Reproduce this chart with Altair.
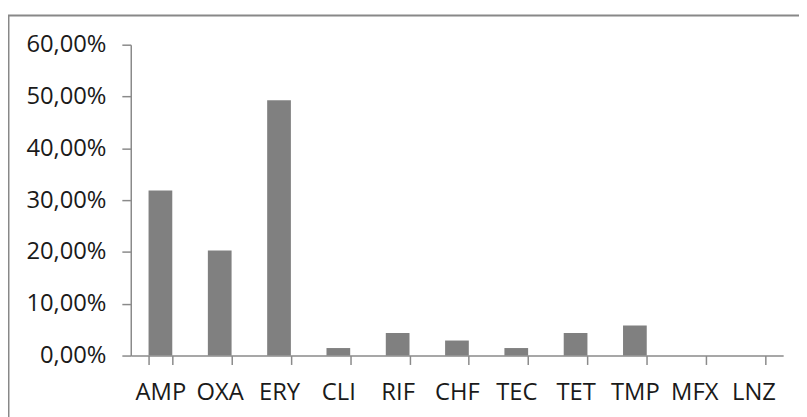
import altair as alt
import pandas as pd

categories = ["AMP", "OXA", "ERY", "CLI", "RIF", "CHF", "TEC", "TET", "TMP", "MFX", "LNZ"]
values = [0.3188, 0.2029, 0.4928, 0.0145, 0.0435, 0.0290, 0.0145, 0.0435, 0.0580, 0.0, 0.0]
y_ticks = [0, 0.1, 0.2, 0.3, 0.4, 0.5, 0.6]

df = pd.DataFrame({"cat": categories, "val": values})

FONT = "Open Sans"
AX = "#8a8a8a"

bars = alt.Chart(df).mark_bar(color="#808080").encode(
    x=alt.X(
        "cat:N",
        sort=categories,
        title=None,
        scale=alt.Scale(paddingInner=0.6, paddingOuter=0.3),
        axis=alt.Axis(
            labelAngle=0,
            tickBand="extent",
            tickSize=9,
            tickColor=AX,
            domainColor=AX,
            domainWidth=1.5,
            tickWidth=1.5,
            labelFont=FONT,
            labelFontSize=24,
            labelColor="#1a1a1a",
            labelPadding=16,
        ),
    ),
    y=alt.Y(
        "val:Q",
        title=None,
        scale=alt.Scale(domain=[0, 0.6], nice=False),
        axis=alt.Axis(
            values=y_ticks,
            labelExpr="replace(format(datum.value, '.2%'), '.', ',')",
            tickSize=9,
            tickColor=AX,
            domainColor=AX,
            domainWidth=1.5,
            tickWidth=1.5,
            labelFont=FONT,
            labelFontSize=24,
            labelColor="#1a1a1a",
            labelPadding=16,
            grid=False,
        ),
    ),
)

frame = alt.Chart(pd.DataFrame({"a": [0]})).mark_rect(
    fill=None, stroke="#888888", strokeWidth=2
).encode(
    x=alt.value(-123.5),
    x2=alt.value(900),
    y=alt.value(-29.5),
    y2=alt.value(500),
)

chart = alt.layer(frame, bars).properties(
    width=659,
    height=314,
    padding={"left": 124, "top": 35, "right": 16, "bottom": 60},
    autosize=alt.AutoSizeParams(type="none"),
).configure_view(stroke=None)

chart.save("out.html", embed_options={"renderer": "svg", "actions": False})
